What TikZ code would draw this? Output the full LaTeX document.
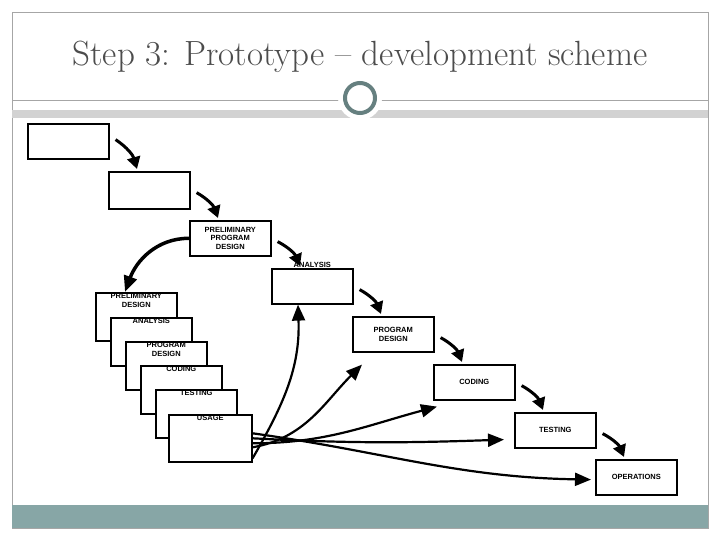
\documentclass[tikz,border=0pt]{standalone}
\usepackage{fontspec}
\setsansfont{Liberation Sans}
\usetikzlibrary{arrows.meta}
\begin{document}
\begin{tikzpicture}[x=1pt,y=-1pt,
 lf/.style={font=\sffamily\bfseries\fontsize{7.5}{8.5}\selectfont,align=center},
 bx/.style={draw,line width=1.6pt,fill=white,minimum width=81pt,minimum height=35pt,inner sep=0pt,lf},
 sm/.style={line width=3pt,-{Triangle[length=12pt,width=13pt]}},
 lg/.style={line width=2.2pt,-{Triangle[length=16pt,width=13pt]}}]
\useasboundingbox (0,0) rectangle (720,540);
\draw[gray!70,line width=0.8pt] (12,12) rectangle (708,528);
\node[font=\fontsize{35}{40}\selectfont,text=black!70] (t) at (360,57) {Step 3: Prototype -- development scheme};
\fill[gray!35] (12,110) rectangle (708,118);
\draw[gray!70,line width=0.8pt] (12,100) -- (708,100);
\fill[white] (360,98) circle (22);
\draw[gray!80!teal,line width=4pt,fill=white] (360,98) circle (15);
\fill[teal!35!gray!70] (12,505) rectangle (708,528);
% staircase
\node[bx,anchor=north west] (b1) at (27,123) {};
\node[bx,anchor=north west,minimum height=37pt] (b2) at (108,171) {};
\node[bx,anchor=north west] (ppd) at (189,220) {PRELIMINARY\\PROGRAM\\DESIGN};
\node[bx,anchor=north west] (an) at (271,268) {};
\node[lf,anchor=north] (anl) at ([yshift=9pt]an.north) {ANALYSIS};
\node[bx,anchor=north west] (pd) at (352,316) {PROGRAM\\DESIGN};
\node[bx,anchor=north west] (cod) at (433,364) {CODING};
\node[bx,anchor=north west] (tes) at (514,412) {TESTING};
\node[bx,anchor=north west] (ops) at (595,459) {OPERATIONS};
% stack
\node[bx,anchor=north west,minimum height=48pt] (s1) at (95,292) {};
\node[lf,anchor=north] (s1l) at ([yshift=2pt]s1.north) {PRELIMINARY\\DESIGN};
\node[bx,anchor=north west,minimum height=48pt] (s2) at (110,317) {};
\node[lf,anchor=north] (s2l) at ([yshift=2pt]s2.north) {ANALYSIS};
\node[bx,anchor=north west,minimum height=48pt] (s3) at (125,341) {};
\node[lf,anchor=north] (s3l) at ([yshift=2pt]s3.north) {PROGRAM\\DESIGN};
\node[bx,anchor=north west,minimum height=48pt] (s4) at (140,365) {};
\node[lf,anchor=north] (s4l) at ([yshift=2pt]s4.north) {CODING};
\node[bx,anchor=north west,minimum height=48pt] (s5) at (155,389) {};
\node[lf,anchor=north] (s5l) at ([yshift=2pt]s5.north) {TESTING};
\node[bx,anchor=north west,minimum height=47pt,minimum width=83pt] (us) at (168,414) {};
\node[lf,anchor=north] (usl) at ([yshift=2pt]us.north) {USAGE};
% small arrows
\draw[sm] ([shift={(6,-20)}]b1.south east) to[bend left=20] ([shift={(29,-2)}]b2.north west);
\draw[sm] ([shift={(6,-17)}]b2.south east) to[bend left=20] ([shift={(29,-2)}]ppd.north west);
\draw[sm] ([shift={(6,-15)}]ppd.south east) to[bend left=20] ([shift={(29,-2)}]an.north west);
\draw[sm] ([shift={(6,-15)}]an.south east) to[bend left=20] ([shift={(29,-2)}]pd.north west);
\draw[sm] ([shift={(6,-15)}]pd.south east) to[bend left=20] ([shift={(29,-2)}]cod.north west);
\draw[sm] ([shift={(6,-15)}]cod.south east) to[bend left=20] ([shift={(29,-2)}]tes.north west);
\draw[sm] ([shift={(6,-15)}]tes.south east) to[bend left=20] ([shift={(29,-2)}]ops.north west);
\draw[lg,line width=3.5pt] (ppd.west) to[out=180,in=70] ([xshift=30pt]s1.north west);
% long arrows from usage
\draw[lg] ([yshift=-20pt]us.east) to[out=60,in=-88] ([xshift=27pt]an.south west);
\draw[lg] ([yshift=-9pt]us.east) to[out=10,in=-135] ([shift={(10,12)}]pd.south west);
\draw[lg] ([yshift=-5pt]us.east) to[out=0,in=-165] ([shift={(4,6)}]cod.south west);
\draw[lg] ([yshift=0pt]us.east) to[out=-3,in=-178] ([shift={(-10,-9)}]tes.south west);
\draw[lg] ([yshift=5pt]us.east) to[out=-8,in=179] ([shift={(-4,-16)}]ops.south west);
\end{tikzpicture}
\end{document}
